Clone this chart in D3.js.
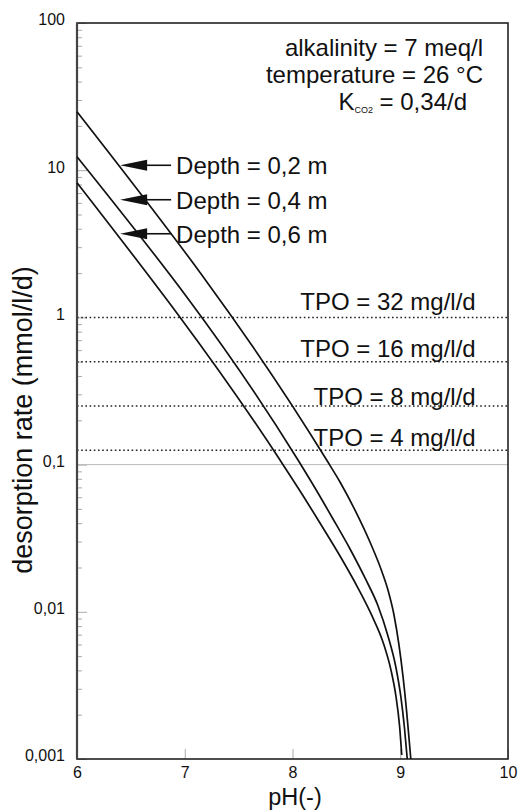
<!DOCTYPE html>
<html>
<head>
<meta charset="utf-8">
<script src="https://cdn.jsdelivr.net/npm/d3@7"></script>
<style>
	body { margin: 0; background: #fff; }
	text { font-family: "Liberation Sans", Arial, Helvetica, sans-serif; fill: #111; }
</style>
</head>
<body>
<script>
// curves: pH and desorption rate (mmol/l/d)
var depthLabels = ['Depth = 0,2 m', 'Depth = 0,4 m', 'Depth = 0,6 m'];
var labelRates = [10.8, 6.3, 3.7];

var ph02 = [6.0, 8.317, 8.441, 8.58, 8.719, 8.831, 8.886, 8.942, 8.988, 9.026, 9.058, 9.081, 9.098];
var rate02 = [24.97, 0.1074, 0.0762, 0.0491, 0.0298, 0.01864, 0.01406, 0.00951, 0.00595, 0.00361, 0.00215, 0.00139, 0.001];

var ph04 = [6.0, 8.051, 8.209, 8.376, 8.534, 8.673, 8.794, 8.886, 8.961, 9.007, 9.039, 9.065];
var rate04 = [12.35, 0.1074, 0.0693, 0.0427, 0.0267, 0.01697, 0.01095, 0.00685, 0.00415, 0.0026, 0.00163, 0.001];

var ph06 = [6.0, 7.884, 8.07, 8.255, 8.441, 8.608, 8.738, 8.849, 8.914, 8.961, 8.993, 9.014];
var rate06 = [8.225, 0.1074, 0.0662, 0.0401, 0.02394, 0.0145, 0.00937, 0.00595, 0.00402, 0.00264, 0.0017, 0.001065];

var tpoLabels = ['TPO = 32 mg/l/d', 'TPO = 16 mg/l/d', 'TPO = 8 mg/l/d', 'TPO = 4 mg/l/d'];
var tpoRates = [1, 0.5, 0.25, 0.125];
var tpoLabelDy = [-7, -5, -1, -4];

var xTicks = [6, 7, 8, 9, 10];
var yTicks = [0.001, 0.01, 0.1, 1, 10, 100];
var yTickLabels = ['0,001', '0,01', '0,1', '1', '10', '100'];

var width = 525, height = 811;
var margin = {top: 23, right: 17, bottom: 52, left: 77};

var svg = d3.select('body')
	.append('svg')
	.attr('width', width)
	.attr('height', height);

var x = d3.scaleLinear()
	.domain([6, 10])
	.range([margin.left, width - margin.right]);

var y = d3.scaleLog()
	.domain([0.001, 100])
	.range([height - margin.bottom, margin.top]);

// minor log ticks
var yMinor = y.ticks().filter(function(d) {
	return yTicks.indexOf(d) < 0;
});

svg.append('g')
	.attr('transform', 'translate(' + margin.left + ',0)')
	.call(d3.axisLeft(y).tickValues(yMinor).tickSize(-5).tickFormat(''))
	.call(function(g) {
		g.select('.domain').remove();
		g.selectAll('line').attr('stroke', '#aaa');
	});

svg.append('g')
	.attr('transform', 'translate(' + margin.left + ',0)')
	.call(d3.axisLeft(y).tickValues(yTicks).tickSize(-10).tickPadding(12)
		.tickFormat(function(d, i) { return yTickLabels[i]; }))
	.call(function(g) {
		g.select('.domain').remove();
		g.selectAll('line').attr('stroke', '#aaa');
		g.selectAll('text')
			.attr('font-size', 16)
			.attr('font-family', null)
			.attr('dy', '0.12em');
	});

svg.append('g')
	.attr('transform', 'translate(0,' + (height - margin.bottom) + ')')
	.call(d3.axisBottom(x).tickValues(xTicks).tickSize(-10).tickPadding(8)
		.tickFormat(d3.format('d')))
	.call(function(g) {
		g.select('.domain').remove();
		g.selectAll('line').attr('stroke', '#aaa');
		g.selectAll('text')
			.attr('font-size', 16)
			.attr('font-family', null)
			.attr('dy', '0.71em');
	});

// gray reference line at 0,1
svg.append('line')
	.attr('x1', x(6))
	.attr('x2', x(10))
	.attr('y1', y(0.1))
	.attr('y2', y(0.1))
	.attr('stroke', '#bbb')
	.attr('stroke-width', 1);

// TPO dotted lines
svg.selectAll('.tpo')
	.data(tpoRates)
	.enter()
	.append('line')
	.attr('class', 'tpo')
	.attr('x1', x(6))
	.attr('x2', x(10))
	.attr('y1', function(d) { return y(d); })
	.attr('y2', function(d) { return y(d); })
	.attr('stroke', '#222')
	.attr('stroke-width', 1.5)
	.attr('stroke-dasharray', '1.6,2.6');

svg.selectAll('.tpo-label')
	.data(tpoRates)
	.enter()
	.append('text')
	.attr('class', 'tpo-label')
	.attr('text-anchor', 'end')
	.attr('font-size', 24)
	.attr('x', x(9.7))
	.attr('y', function(d, i) { return y(d) + tpoLabelDy[i]; })
	.text(function(d, i) { return tpoLabels[i]; });

// frame
svg.append('rect')
	.attr('x', x(6))
	.attr('y', y(100))
	.attr('width', x(10) - x(6))
	.attr('height', y(0.001) - y(100))
	.attr('fill', 'none')
	.attr('stroke', '#222')
	.attr('stroke-width', 1.6);

svg.append('line')
	.attr('x1', x(6))
	.attr('x2', x(6))
	.attr('y1', y(100))
	.attr('y2', y(0.001))
	.attr('stroke', '#444')
	.attr('stroke-width', 2.2);

// curves
var series = [
	{ph: ph02, rate: rate02},
	{ph: ph04, rate: rate04},
	{ph: ph06, rate: rate06}
];

var line = d3.line()
	.x(function(d) { return x(d[0]); })
	.y(function(d) { return y(d[1]); })
	.curve(d3.curveMonotoneX);

svg.selectAll('.curve')
	.data(series)
	.enter()
	.append('path')
	.attr('class', 'curve')
	.attr('fill', 'none')
	.attr('stroke', '#111')
	.attr('stroke-width', 1.7)
	.attr('d', function(s) {
		return line(s.ph.map(function(p, i) { return [p, s.rate[i]]; }));
	});

// depth arrows
var arrows = svg.selectAll('.arrow')
	.data(labelRates)
	.enter()
	.append('g')
	.attr('class', 'arrow')
	.attr('transform', function(d) {
		return 'translate(' + x(6.4) + ',' + y(d) + ')';
	});

arrows.append('path')
	.attr('d', 'M0,0L27,-5.5L27,5.5Z')
	.attr('fill', '#111');

arrows.append('line')
	.attr('x1', 26)
	.attr('x2', 51)
	.attr('stroke', '#111')
	.attr('stroke-width', 1.6);

arrows.append('text')
	.attr('x', 56)
	.attr('dy', '0.37em')
	.attr('font-size', 24)
	.text(function(d, i) { return depthLabels[i]; });

// conditions
var info = svg.append('g')
	.attr('font-size', 24)
	.attr('text-anchor', 'end');

info.append('text')
	.attr('x', 483)
	.attr('y', 56)
	.text('alkalinity = 7 meq/l');

info.append('text')
	.attr('x', 483)
	.attr('y', 83)
	.text('temperature = 26 °C');

var k = info.append('text')
	.attr('x', 467)
	.attr('y', 110);
k.append('tspan').text('K');
k.append('tspan').attr('font-size', 9).attr('dy', 3).text('CO2');
k.append('tspan').attr('dy', -3).text(' = 0,34/d');

// axis titles
svg.append('text')
	.attr('text-anchor', 'middle')
	.attr('font-size', 23.5)
	.attr('x', 295)
	.attr('y', 805)
	.text('pH(-)');

svg.append('text')
	.attr('text-anchor', 'middle')
	.attr('font-size', 27)
	.attr('transform', 'translate(32,' + 420 + ') rotate(-90)')
	.text('desorption rate (mmol/l/d)');
</script>
</body>
</html>
